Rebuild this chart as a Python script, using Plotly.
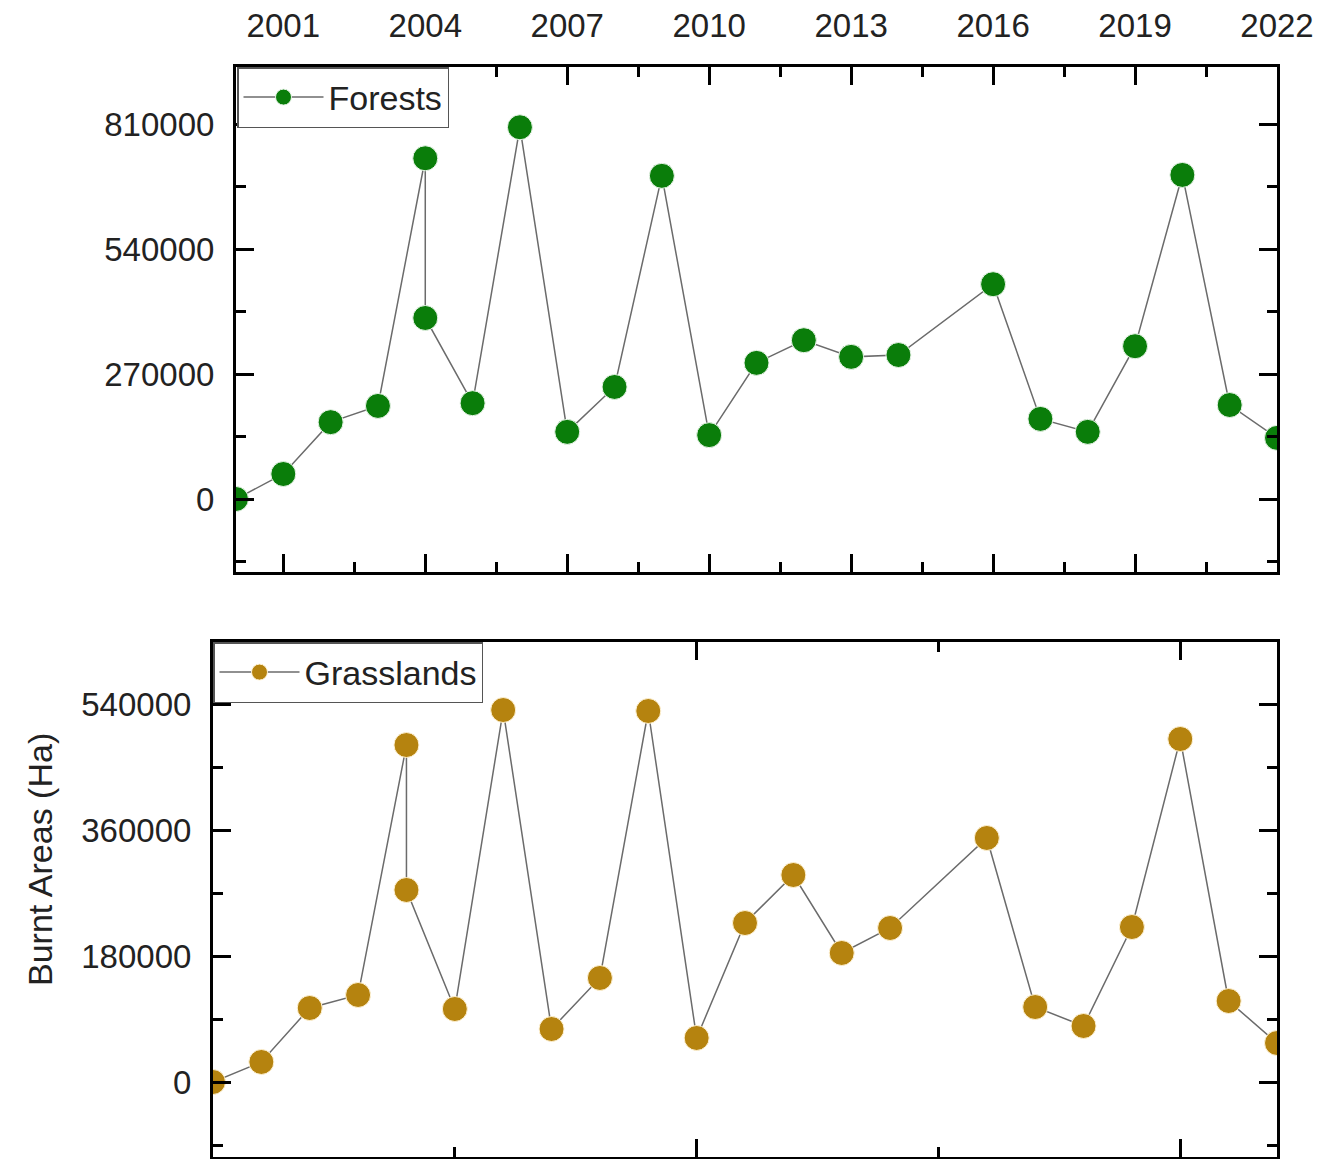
import plotly.graph_objects as go

# Burnt area per year; 2004 has two recorded values
years = [2000, 2001, 2002, 2003, 2004, 2004, 2005, 2006, 2007, 2008, 2009, 2010,
         2011, 2012, 2013, 2014, 2016, 2017, 2018, 2019, 2020, 2021, 2022]
forests = [0, 54000, 166000, 201000, 736000, 391000, 207000, 803000, 145000, 242000,
           698000, 138000, 294000, 343000, 307000, 311000, 464000, 173000, 145000,
           330000, 700000, 203000, 132000]
grasslands = [0, 28600, 105700, 124300, 481400, 274300, 104300, 531400, 75700, 148600,
              530000, 62900, 227100, 295700, 184300, 220000, 348600, 107100, 80000,
              221400, 490000, 115700, 55700]

W, H = 1319, 1159
FONT = "Liberation Sans, Arial, sans-serif"
LINE_GREY = "#6b6b6b"


def px_x(p):
    return p / W


def px_y(p):
    return 1 - p / H


axis_common = dict(
    showline=True, linecolor="black", linewidth=3, mirror="allticks",
    ticks="inside", ticklen=18, tickwidth=2.5, tickcolor="black",
    showgrid=False, zeroline=False, automargin=False,
    tickfont=dict(family=FONT, size=33, color="#222"),
)
minor_common = dict(ticks="inside", ticklen=10, tickwidth=2.5, tickcolor="black")

fig = go.Figure()

fig.add_trace(go.Scatter(
    x=years, y=forests, name="Forests", mode="lines+markers",
    line=dict(color=LINE_GREY, width=1.5),
    marker=dict(size=25, color="#0a7d0a", line=dict(color="#e8f4e8", width=1)),
    xaxis="x", yaxis="y", legend="legend", showlegend=True,
))
fig.add_trace(go.Scatter(
    x=years, y=grasslands, name="Grasslands", mode="lines+markers",
    line=dict(color=LINE_GREY, width=1.5),
    marker=dict(size=25, color="#b5830f", line=dict(color="#fff3d6", width=1)),
    xaxis="x2", yaxis="y2", legend="legend2", showlegend=True,
))

legend_common = dict(
    xanchor="left", yanchor="top",
    bgcolor="white", bordercolor="#555", borderwidth=1.5,
    font=dict(family=FONT, size=34, color="#222"),
    itemwidth=80, tracegroupgap=0, visible=True,
)

fig.update_layout(
    width=W, height=H,
    margin=dict(l=0, r=0, t=0, b=0),
    paper_bgcolor="white", plot_bgcolor="white",
    font=dict(family=FONT, color="#222"),
    showlegend=True,
    xaxis=dict(
        **axis_common, domain=[px_x(236), px_x(1277)], anchor="y",
        range=[2000, 2022], side="top", tickmode="linear", tick0=2001, dtick=3,
        ticklabelstandoff=14,
        minor=dict(**minor_common, tick0=2001, dtick=1.5),
    ),
    yaxis=dict(
        **axis_common, domain=[px_y(572), px_y(67)], anchor="x",
        range=[-157680, 933120], tickmode="linear", tick0=0, dtick=270000,
        tickformat="d", ticklabelstandoff=12,
        minor=dict(**minor_common, tick0=0, dtick=135000),
    ),
    xaxis2=dict(
        **axis_common, domain=[px_x(213), px_x(1277)], anchor="y2",
        range=[2000, 2022], side="bottom", tickmode="linear", tick0=2000, dtick=10,
        showticklabels=False,
        minor=dict(**minor_common, tick0=2000, dtick=5),
    ),
    yaxis2=dict(
        **axis_common, domain=[px_y(1157), px_y(642)], anchor="x2",
        range=[-107143, 628571], tickmode="linear", tick0=0, dtick=180000,
        tickformat="d", ticklabelstandoff=12,
        minor=dict(**minor_common, tick0=0, dtick=90000),
    ),
    legend=dict(**legend_common, x=px_x(237), y=px_y(67)),
    legend2=dict(**legend_common, x=px_x(213), y=px_y(642)),
    annotations=[dict(
        text="Burnt Areas (Ha)", textangle=-90, showarrow=False,
        xref="paper", yref="paper", x=px_x(40), y=px_y(860),
        xanchor="center", yanchor="middle",
        font=dict(family=FONT, size=34, color="#222"),
    )],
)

fig.write_html("out.html")
